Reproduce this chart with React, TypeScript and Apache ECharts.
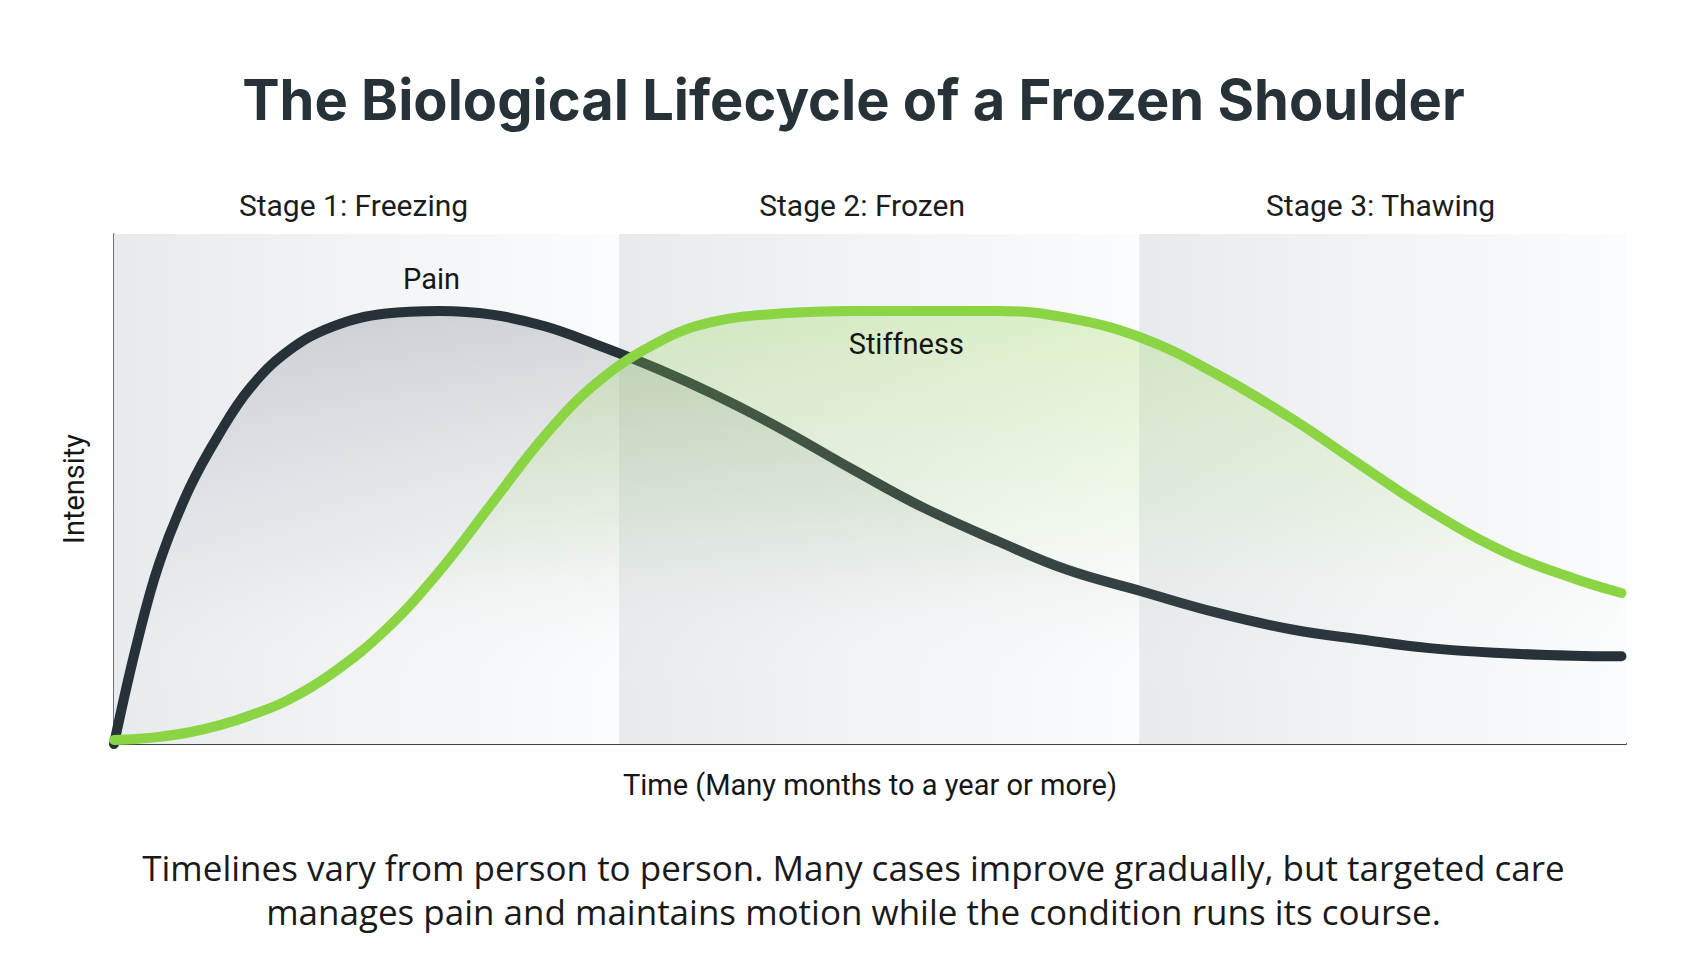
import React, { useEffect, useRef } from "react";
import * as echarts from "echarts";

// time axis is relative (0 = onset, 100 = end of the pictured course)
const timePoints = [0, 1.5, 3, 5, 7, 9, 11.5, 14.5, 18, 21.5, 25, 28.5, 32, 36, 39.5, 44, 49, 53.5, 58.5, 63, 68, 73, 78, 82.5, 87, 92, 96.5, 99.7];
const painValues = [0, 19.5, 35.5, 50.2, 61, 69.8, 77, 81.9, 84.4, 84.9, 84.2, 81.9, 78.2, 73.5, 68.8, 62.0, 53.6, 46.4, 39.7, 34.2, 29.9, 25.7, 22.4, 20.5, 18.8, 17.8, 17.3, 17.2];
const stiffnessValues = [0.8, 1.0, 1.4, 2.3, 3.7, 5.6, 8.6, 14, 22.5, 33.8, 47.2, 60.5, 71.0, 78.8, 82.7, 84.4, 84.9, 84.9, 84.9, 83.6, 79.6, 72.4, 63.6, 54.6, 45.8, 37.6, 32.5, 29.6];

const stageNames = ["Stage 1: Freezing", "Stage 2: Frozen", "Stage 3: Thawing"];
const stageBounds = [0, 33.4, 67.8, 100];

const painLabel = { name: "Pain", coord: [21, 84.9] };
const stiffnessLabel = { name: "Stiffness", coord: [52.4, 84.9] };

const footerLines = [
  "Timelines vary from person to person. Many cases improve gradually, but targeted care",
  "manages pain and maintains motion while the condition runs its course.",
];

const DARK = "#263238";
const GREEN = "#8bd444";
const stageLabelShift = [-13, -17, -2];

const App: React.FC = () => {
  const chartRef = useRef<HTMLDivElement>(null);

  useEffect(() => {
    if (!chartRef.current) return;
    const chart = echarts.init(chartRef.current, undefined, { renderer: "svg" });

    const pairs = (vals: number[]) => timePoints.map((t, i) => [t, vals[i]]);

    const bandGradient = () =>
      new echarts.graphic.LinearGradient(0, 0, 1, 0, [
        { offset: 0, color: "#e8ebee" },
        { offset: 1, color: "#fbfcfd" },
      ]);

    const option: echarts.EChartsOption = {
      animation: false,
      backgroundColor: "#ffffff",
      title: {
        text: "The Biological Lifecycle of a Frozen Shoulder",
        left: "center",
        top: 67,
        textStyle: {
          fontFamily: "Inter",
          fontWeight: "bold",
          fontSize: 56,
          color: DARK,
        },
      },
      grid: { left: 114, right: 81, top: 234, bottom: 216 },
      xAxis: {
        type: "value",
        min: 0,
        max: 100,
        name: "Time (Many months to a year or more)",
        nameLocation: "middle",
        nameGap: 26,
        nameTextStyle: { fontFamily: "Roboto", fontSize: 29, color: "#161616" },
        axisLine: { show: true, lineStyle: { color: "#3a4448", width: 2 } },
        axisTick: { show: false },
        axisLabel: { show: false },
        splitLine: { show: false },
      },
      yAxis: {
        type: "value",
        min: 0,
        max: 100,
        name: "Intensity",
        nameLocation: "middle",
        nameGap: 26,
        nameRotate: 90,
        nameTextStyle: { fontFamily: "Roboto", fontSize: 29, color: "#161616" },
        axisLine: { show: true, lineStyle: { color: "#3a4448", width: 1.5 } },
        axisTick: { show: false },
        axisLabel: { show: false },
        splitLine: { show: false },
      },
      graphic: footerLines.map((line, i) => ({
        type: "text",
        left: "center",
        top: 847 + i * 44,
        style: {
          text: line,
          fontFamily: "Open Sans",
          fontSize: 35,
          lineHeight: 40,
          fill: "#1a1a1a",
        },
      })),
      series: [
        {
          // stage bands
          type: "line",
          data: [[0, 0]],
          showSymbol: false,
          silent: true,
          z: 1,
          lineStyle: { width: 0 },
          markArea: {
            silent: true,
            label: {
              show: true,
              position: "top",
              distance: 14,
              fontFamily: "Roboto",
              fontSize: 30,
              color: "#1c1c1c",
            },
            data: stageNames.map((name, i) => [
              {
                name,
                xAxis: stageBounds[i],
                itemStyle: { color: bandGradient() },
                label: { offset: [stageLabelShift[i], 0] },
              },
              { xAxis: stageBounds[i + 1] },
            ]) as any,
          },
        },
        {
          name: "Pain",
          type: "line",
          data: pairs(painValues),
          smooth: 0.4,
          showSymbol: false,
          z: 3,
          lineStyle: { color: DARK, width: 10, cap: "round" },
          areaStyle: {
            color: new echarts.graphic.LinearGradient(0, 0, 0, 1, [
              { offset: 0, color: "rgba(135,142,150,0.5)" },
              { offset: 0.55, color: "rgba(200,204,208,0.3)" },
              { offset: 0.9, color: "rgba(255,255,255,0)" },
            ]),
          },
          markPoint: {
            symbol: "circle",
            symbolSize: 0,
            silent: true,
            label: {
              show: true,
              position: "top",
              distance: 18,
              formatter: "{b}",
              fontFamily: "Roboto",
              fontSize: 29,
              color: "#161616",
            },
            data: [painLabel] as any,
          },
        },
        {
          name: "Stiffness",
          type: "line",
          data: pairs(stiffnessValues),
          smooth: 0.4,
          showSymbol: false,
          z: 4,
          lineStyle: { color: GREEN, width: 10, cap: "round" },
          areaStyle: {
            color: new echarts.graphic.LinearGradient(0, 0, 0, 1, [
              { offset: 0, color: "rgba(150,215,80,0.42)" },
              { offset: 0.45, color: "rgba(180,225,130,0.22)" },
              { offset: 0.8, color: "rgba(255,255,255,0)" },
            ]),
          },
          markPoint: {
            symbol: "circle",
            symbolSize: 0,
            silent: true,
            label: {
              show: true,
              position: "bottom",
              distance: 18,
              formatter: "{b}",
              fontFamily: "Roboto",
              fontSize: 29,
              color: "#161616",
            },
            data: [stiffnessLabel] as any,
          },
        },
      ],
    };

    chart.setOption(option);

    const resizeObserver = new ResizeObserver(() => chart.resize());
    resizeObserver.observe(chartRef.current);

    return () => {
      resizeObserver.disconnect();
      chart.dispose();
    };
  }, []);

  return (
    <div
      ref={chartRef}
      style={{ position: "fixed", left: 0, top: 0, width: 1707, height: 960 }}
    />
  );
};

export default App;
